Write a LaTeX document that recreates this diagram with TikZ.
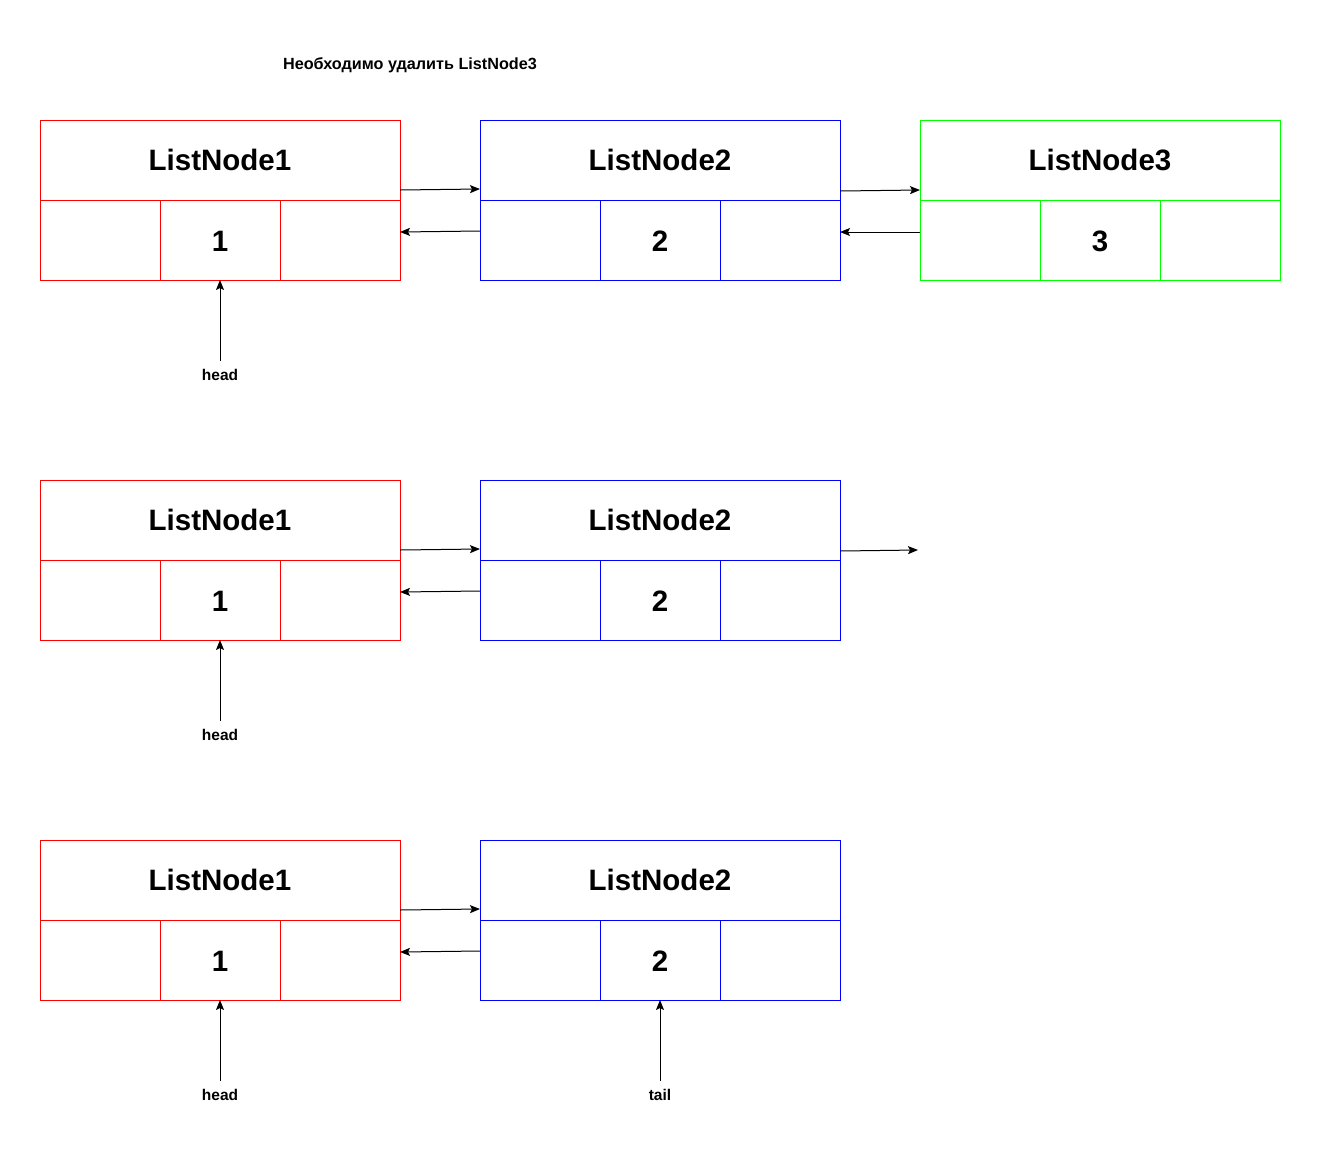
\documentclass[tikz,border=0pt]{standalone}
\usepackage{fontspec}
\setmainfont{Liberation Sans}
\usetikzlibrary{arrows.meta}
\tikzset{
  hdr/.style={draw, line width=1pt, outer sep=0pt, inner sep=0pt, anchor=north west,
    minimum width=360pt, minimum height=80pt, font=\fontsize{29.5}{34}\selectfont\bfseries},
  cell/.style={draw, line width=1pt, outer sep=0pt, inner sep=0pt, anchor=north west,
    minimum width=120pt, minimum height=80pt, text height=23pt, text depth=0pt,
    font=\fontsize{29.5}{34}\selectfont\bfseries},
  lbl/.style={inner sep=0pt, font=\fontsize{15.5}{18}\selectfont\bfseries},
  arr/.style={-{Stealth[length=10pt,width=8pt,inset=2pt]}, line width=1pt}
}
\begin{document}
\begin{tikzpicture}[x=1pt,y=-1pt]
\useasboundingbox (0,0) rectangle (1320,1160);
\node[lbl, font=\fontsize{16.2}{20}\selectfont\bfseries] (title) at (410,65) {Необходимо удалить ListNode3};
\foreach \r/\y in {1/120,2/480,3/840} {
  \node[hdr, draw=red] (p\r) at (40,\y) {ListNode1};
  \node[cell, draw=red] (p\r a) at (p\r.south west) {};
  \node[cell, draw=red] (p\r v) at (p\r a.north east) {1};
  \node[cell, draw=red] (p\r b) at (p\r v.north east) {};
  \node[hdr, draw=blue] (q\r) at (480,\y) {ListNode2};
  \node[cell, draw=blue] (q\r a) at (q\r.south west) {};
  \node[cell, draw=blue] (q\r v) at (q\r a.north east) {2};
  \node[cell, draw=blue] (q\r b) at (q\r v.north east) {};
  \draw[arr] ([yshift=10pt]p\r.south east) -- ([yshift=11pt]q\r.south west);
  \draw[arr] ([yshift=9pt]q\r a.west) -- ([yshift=8pt]p\r b.east);
  \node[lbl] (head\r) at (220,\y+255) {head};
  \draw[arr] ([yshift=8pt]head\r.north) -- (p\r v.south);
}
% removed node
\node[hdr, draw=green] (s1) at (920,120) {ListNode3};
\node[cell, draw=green] (s1a) at (s1.south west) {};
\node[cell, draw=green] (s1v) at (s1a.north east) {3};
\node[cell, draw=green] (s1b) at (s1v.north east) {};
\draw[arr] ([yshift=9pt]q1.south east) -- ([yshift=10pt]s1.south west);
\draw[arr] ([yshift=8pt]s1a.west) -- ([yshift=8pt]q1b.east);
\coordinate (free) at (918,550);
\draw[arr] ([yshift=9pt]q2.south east) -- (free);
\node[lbl] (tail) at (660,1095) {tail};
\draw[arr] ([yshift=8pt]tail.north) -- (q3v.south);
\end{tikzpicture}
\end{document}
